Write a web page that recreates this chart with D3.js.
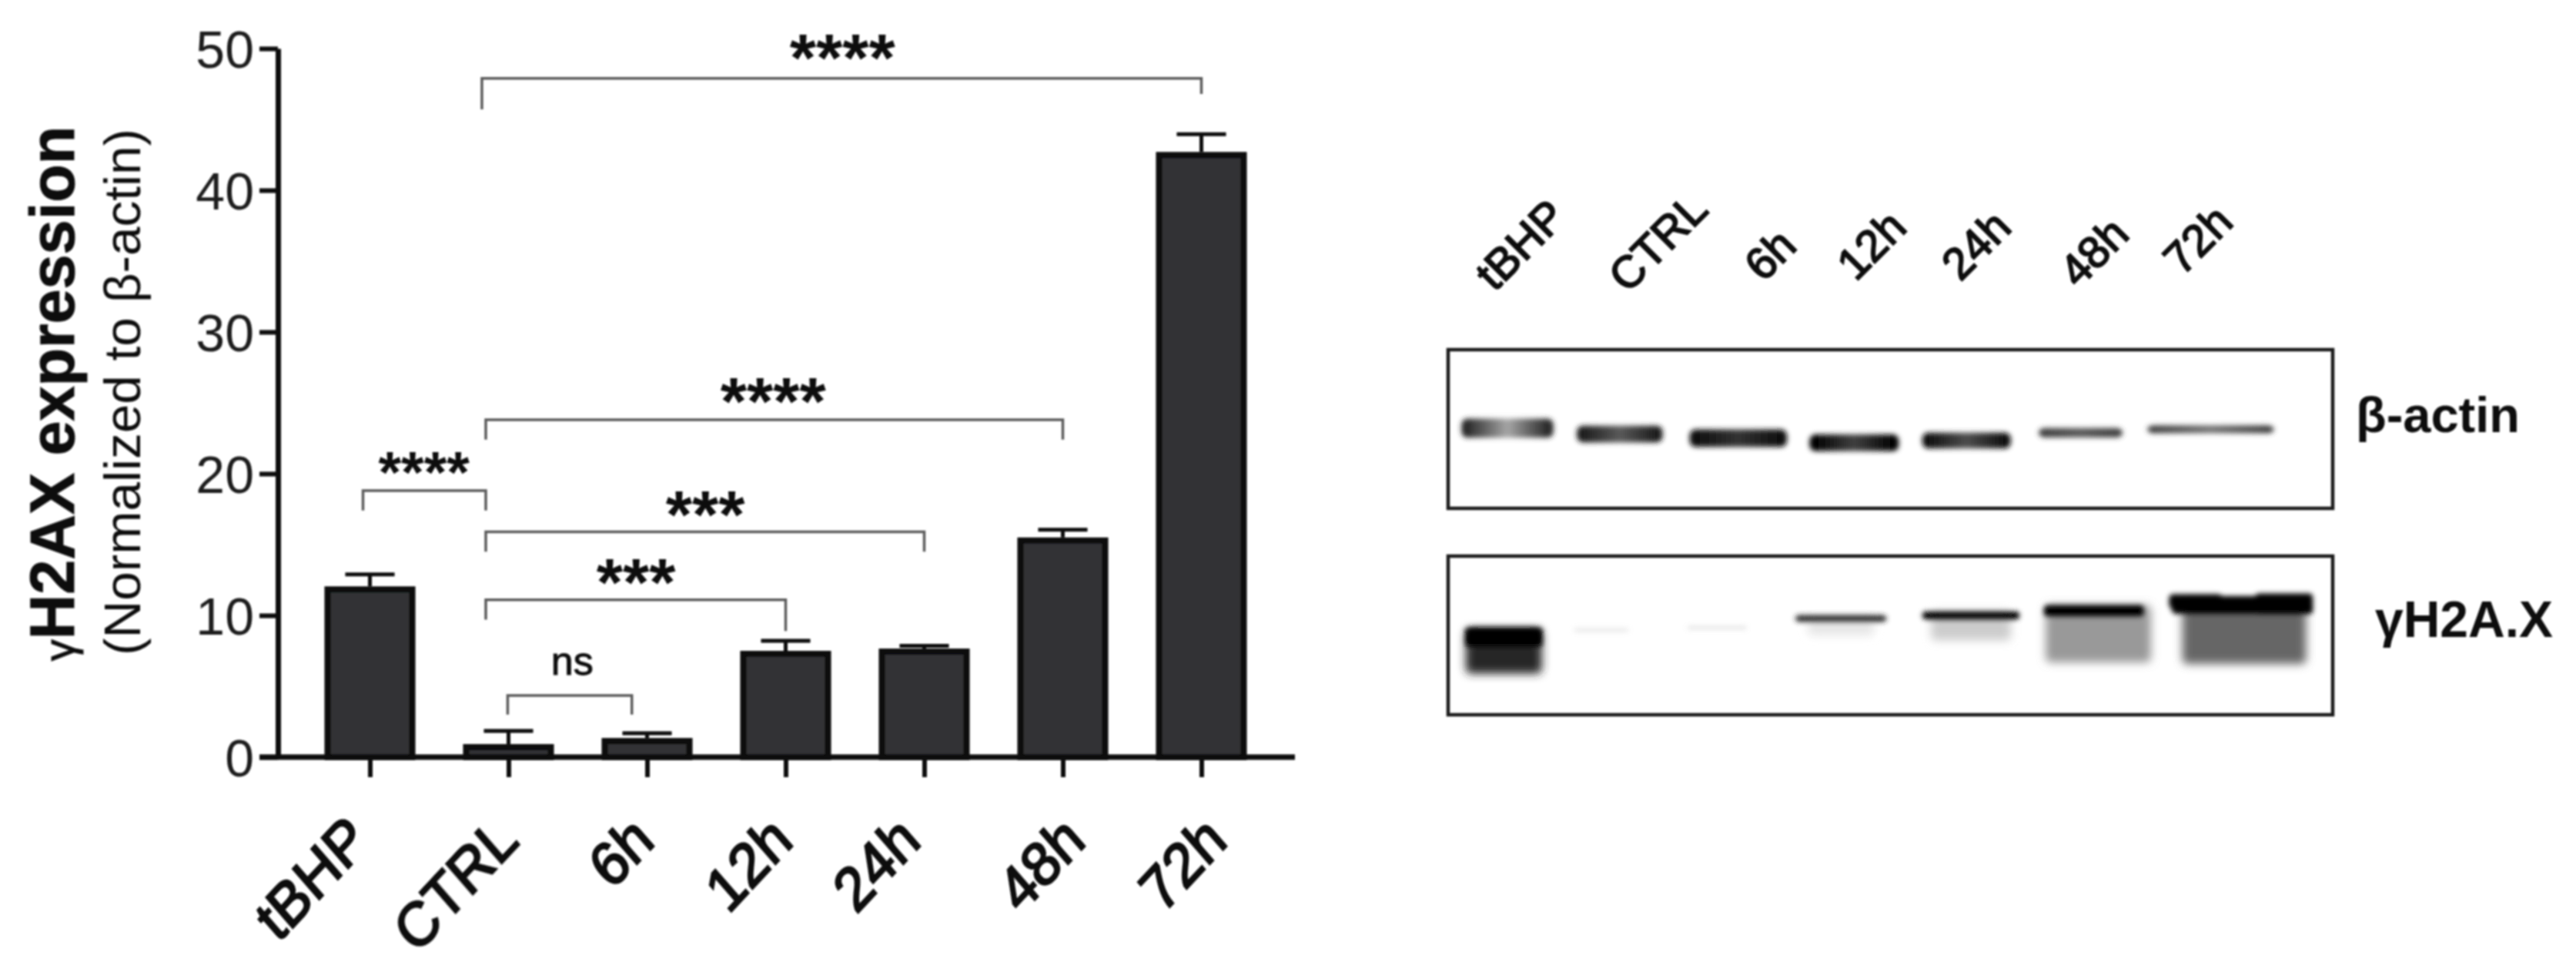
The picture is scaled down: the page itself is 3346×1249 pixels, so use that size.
<!DOCTYPE html>
<html>
<head>
<meta charset="utf-8">
<script src="https://cdn.jsdelivr.net/npm/d3@7"></script>
<style>
html, body { margin: 0; background: #fff; }
svg { display: block; }
text { font-family: "Liberation Sans", Arial, sans-serif; fill: #111; }
</style>
</head>
<body>
<div id="chart"></div>
<script>
// bar chart values
const categories = ["tBHP", "CTRL", "6h", "12h", "24h", "48h", "72h"];
const means = [12.05, 0.92, 1.35, 7.5, 7.66, 15.5, 42.7];
const upper = [12.9, 1.85, 1.68, 8.2, 7.85, 16.05, 43.95];
const yTicks = [0, 10, 20, 30, 40, 50];

// significance brackets, x in category positions, y in axis units
const bracketFrom = [0.808, 0.836, -0.05, 0.836, 0.836, 0.994];
const bracketTo = [6, 5, 0.836, 4, 3, 1.89];
const bracketLevel = [47.9, 23.8, 18.8, 15.9, 11.1, 4.35];
const bracketDropL = [45.7, 22.4, 17.4, 14.5, 9.7, 3.0];
const bracketDropR = [46.8, 22.4, 17.4, 14.5, 8.9, 3.0];
const sigText = ["****", "****", "****", "***", "***", "ns"];
const sigX = [3.41, 2.91, 0.39, 2.42, 1.92, 1.46];
const sigY = [50.2, 26.0, 21.2, 18.0, 13.2, 6.6];

// blot lanes, all in percent of the panel
const actinX = [6.7, 19.4, 32.8, 45.9, 58.6, 71.5, 86.2];
const actinW = [10.4, 9.7, 11, 10.1, 10, 9.5, 14.3];
const actinY = [49.5, 53.2, 55.8, 58.7, 57.3, 52.4, 50.2];
const actinH = [12, 10.5, 11, 10.5, 10, 6, 5];
const actinEdge = [0.85, 0.9, 0.95, 1, 0.95, 0.75, 0.75];
const actinMid = [0.35, 0.65, 0.8, 0.75, 0.7, 0.65, 0.55];

// last two entries are the humps on the 72h band
const gammaX = [6.3, 17.3, 30.4, 44.4, 59.1, 73, 89.6, 84.5, 94.5];
const gammaW = [8.7, 6.2, 6.7, 10.3, 11, 11.3, 15.6, 6, 6.5];
const gammaY = [51, 46.6, 45.1, 39.3, 37.4, 34.5, 30.8, 28.5, 30];
const gammaH = [12, 0.9, 0.9, 4.2, 5, 7, 11, 9, 13];
const gammaD = [1, 0.22, 0.28, 0.85, 1, 1, 1, 1, 1];
const smearX = [6.3, 44.4, 59.1, 73.5, 90];
const smearW = [8.6, 7.5, 9, 11.9, 14];
const smearY = [60, 45, 44, 49, 49];
const smearH = [28, 10, 18, 36, 38];
const smearD = [0.85, 0.1, 0.2, 0.4, 0.6];

const width = 3346;
const height = 1249;

const svg = d3.select("#chart").append("svg")
    .attr("width", width)
    .attr("height", height);

const defs = svg.append("defs");
defs.append("filter").attr("id", "soft")
    .append("feGaussianBlur").attr("stdDeviation", 0.8);
defs.append("filter").attr("id", "band")
    .attr("x", "-20%").attr("y", "-80%").attr("width", "140%").attr("height", "260%")
    .append("feGaussianBlur").attr("stdDeviation", 3);
defs.append("filter").attr("id", "smear")
    .attr("x", "-20%").attr("y", "-40%").attr("width", "140%").attr("height", "180%")
    .append("feGaussianBlur").attr("stdDeviation", 6);

const root = svg.append("g").attr("filter", "url(#soft)");

const x = d3.scalePoint().domain(categories).range([480.5, 1560.5]);
const xPos = d3.scaleLinear().domain([0, 6]).range([480.5, 1560.5]);
const y = d3.scaleLinear().domain([0, 50]).range([983, 63]);
const barW = 110;
const barStroke = 8;

// bars, outer edge of the outline sits on the value
root.append("g").selectAll("rect")
    .data(categories)
    .enter()
    .append("rect")
    .attr("x", d => x(d) - barW / 2)
    .attr("y", (d, i) => y(means[i]) + barStroke / 2)
    .attr("width", barW)
    .attr("height", (d, i) => y(0) - y(means[i]) - barStroke / 2)
    .attr("fill", "#303134")
    .attr("stroke", "#0a0a0a")
    .attr("stroke-width", barStroke);

// error bars
const err = root.append("g").attr("stroke", "#0a0a0a").attr("stroke-width", 5);
err.selectAll(".stem")
    .data(categories)
    .enter()
    .append("line")
    .attr("class", "stem")
    .attr("x1", d => x(d))
    .attr("x2", d => x(d))
    .attr("y1", (d, i) => y(means[i]))
    .attr("y2", (d, i) => y(upper[i]));
err.selectAll(".cap")
    .data(categories)
    .enter()
    .append("line")
    .attr("class", "cap")
    .attr("x1", d => x(d) - 32)
    .attr("x2", d => x(d) + 32)
    .attr("y1", (d, i) => y(upper[i]))
    .attr("y2", (d, i) => y(upper[i]));

// axes
const yAxis = root.append("g")
    .attr("transform", "translate(361,0)")
    .call(d3.axisLeft(y).tickValues(yTicks).tickSize(24).tickSizeOuter(0));
yAxis.select(".domain").attr("stroke", "#0a0a0a").attr("stroke-width", 7);
yAxis.selectAll(".tick line").attr("stroke", "#0a0a0a").attr("stroke-width", 6);
yAxis.selectAll(".tick text")
    .attr("x", -31)
    .attr("dy", "0.36em")
    .style("font-size", "68px")
    .style("font-family", "\"Liberation Sans\", Arial, sans-serif")
    .style("fill", "#1a1a1a");

const xAxis = root.append("g")
    .attr("transform", `translate(0,${y(0)})`)
    .call(d3.axisBottom(x).tickSize(26).tickSizeOuter(0));
xAxis.select(".domain").remove();
xAxis.selectAll(".tick line").attr("stroke", "#0a0a0a").attr("stroke-width", 6);
xAxis.selectAll(".tick text").remove();
root.append("line")
    .attr("x1", 337).attr("x2", 1682)
    .attr("y1", y(0)).attr("y2", y(0))
    .attr("stroke", "#0a0a0a").attr("stroke-width", 7);

// rotated category labels, nudged like the original figure
const labelNudge = [2, 16, 12, 12, -2, 32, 36];
root.append("g").selectAll("text")
    .data(categories)
    .enter()
    .append("text")
    .attr("text-anchor", "end")
    .attr("transform", (d, i) => `translate(${x(d) + labelNudge[i]},${y(0) + 112}) rotate(-47) skewX(-6)`)
    .style("font-size", "76px")
    .style("stroke", "#111")
    .style("stroke-width", "2.6px")
    .text(d => d);

// y titles
const title = root.append("text")
    .attr("text-anchor", "middle")
    .attr("transform", "translate(96,511) rotate(-90)")
    .style("font-size", "81px")
    .style("font-weight", 700)
    .style("stroke", "#111")
    .style("stroke-width", "1px");
title.append("tspan").style("font-size", "56px").style("font-weight", 400).text("γ");
title.append("tspan").text("H2AX expression");

root.append("text")
    .attr("text-anchor", "middle")
    .attr("transform", "translate(182,509) rotate(-90)")
    .style("font-size", "67.5px")
    .text("(Normalized to β-actin)");

// significance brackets
root.append("g").selectAll("path")
    .data(bracketFrom)
    .enter()
    .append("path")
    .attr("d", (d, i) => `M${xPos(d)},${y(bracketDropL[i])}V${y(bracketLevel[i])}H${xPos(bracketTo[i])}V${y(bracketDropR[i])}`)
    .attr("fill", "none")
    .attr("stroke", "#5c5c5c")
    .attr("stroke-width", 3.5);

root.append("g").selectAll("text")
    .data(sigText)
    .enter()
    .append("text")
    .attr("text-anchor", "middle")
    .attr("x", (d, i) => xPos(sigX[i]))
    .attr("y", (d, i) => d === "ns" ? y(sigY[i]) + 14 : y(sigY[i]) + 46)
    .style("font-size", (d, i) => d === "ns" ? "52px" : (i === 2 ? "76px" : "88px"))
    .style("font-weight", d => d === "ns" ? 400 : 700)
    .style("stroke", d => d === "ns" ? "#111" : "none")
    .text(d => d);

// blot panels
const blotX = d3.scaleLinear().domain([0, 100]).range([1881, 3030]);
const actinPanel = d3.scaleLinear().domain([0, 100]).range([454, 660]);
const gammaPanel = d3.scaleLinear().domain([0, 100]).range([722, 928]);
const blotGrey = d3.scaleLinear().domain([0, 1]).range(["#ffffff", "#000000"]);

[actinPanel, gammaPanel].forEach(panel => {
    root.append("rect")
        .attr("x", blotX(0))
        .attr("y", panel(0))
        .attr("width", blotX(100) - blotX(0))
        .attr("height", panel(100) - panel(0))
        .attr("fill", "none")
        .attr("stroke", "#1c1c1c")
        .attr("stroke-width", 4.5);
});

// actin bands get a lighter middle
const actinGrad = defs.selectAll(".actinGrad")
    .data(actinX)
    .enter()
    .append("linearGradient")
    .attr("class", "actinGrad")
    .attr("id", (d, i) => "actin" + i);
actinGrad.append("stop").attr("offset", "5%").attr("stop-color", (d, i) => blotGrey(actinEdge[i]));
actinGrad.append("stop").attr("offset", "50%").attr("stop-color", (d, i) => blotGrey(actinMid[i]));
actinGrad.append("stop").attr("offset", "95%").attr("stop-color", (d, i) => blotGrey(actinEdge[i]));

root.append("g").attr("filter", "url(#band)").selectAll("rect")
    .data(actinX)
    .enter()
    .append("rect")
    .attr("x", (d, i) => blotX(d - actinW[i] / 2))
    .attr("y", (d, i) => actinPanel(actinY[i] - actinH[i] / 2))
    .attr("width", (d, i) => blotX(actinW[i]) - blotX(0))
    .attr("height", (d, i) => actinPanel(actinH[i]) - actinPanel(0))
    .attr("rx", 8)
    .attr("fill", (d, i) => `url(#actin${i})`);

root.append("g").attr("filter", "url(#smear)").selectAll("rect")
    .data(smearX)
    .enter()
    .append("rect")
    .attr("x", (d, i) => blotX(d - smearW[i] / 2))
    .attr("y", (d, i) => gammaPanel(smearY[i] - smearH[i] / 2))
    .attr("width", (d, i) => blotX(smearW[i]) - blotX(0))
    .attr("height", (d, i) => gammaPanel(smearH[i]) - gammaPanel(0))
    .attr("rx", 6)
    .attr("fill", (d, i) => blotGrey(smearD[i]));

root.append("g").attr("filter", "url(#band)").selectAll("rect")
    .data(gammaX)
    .enter()
    .append("rect")
    .attr("x", (d, i) => blotX(d - gammaW[i] / 2))
    .attr("y", (d, i) => gammaPanel(gammaY[i] - gammaH[i] / 2))
    .attr("width", (d, i) => blotX(gammaW[i]) - blotX(0))
    .attr("height", (d, i) => gammaPanel(gammaH[i]) - gammaPanel(0))
    .attr("rx", 5)
    .attr("fill", (d, i) => blotGrey(gammaD[i]));

// blot lane labels
const blotLabelX = [2037, 2221, 2336, 2479, 2615, 2768, 2903];
const blotLabelY = [284, 275, 322, 298, 298, 307, 291];
root.append("g").selectAll("text")
    .data(categories)
    .enter()
    .append("text")
    .attr("text-anchor", "end")
    .attr("transform", (d, i) => `translate(${blotLabelX[i]},${blotLabelY[i]}) rotate(-45)`)
    .style("font-size", "58px")
    .style("stroke", "#111")
    .style("stroke-width", "2px")
    .text(d => d);

root.append("text")
    .attr("x", 3060).attr("y", 561)
    .style("font-size", "65px")
    .style("font-weight", 700)
    .text("β-actin");
root.append("text")
    .attr("x", 3085).attr("y", 827)
    .style("font-size", "66px")
    .style("font-weight", 700)
    .text("γH2A.X");
</script>
</body>
</html>
